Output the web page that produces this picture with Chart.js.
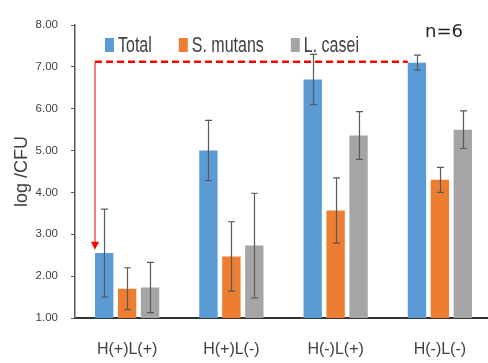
<!DOCTYPE html>
<html>
<head>
<meta charset="utf-8">
<script src="https://cdn.jsdelivr.net/npm/chart.js@4.4.0/dist/chart.umd.min.js"></script>
<style>
	html, body { margin: 0; padding: 0; background: #fff; overflow: hidden; }
	#wrap { width: 492px; height: 363px; }
</style>
</head>
<body>
<div id="wrap"><canvas id="myChart" width="492" height="363"></canvas></div>
<script>
// groups on the x axis
var groups = ["H(+)L(+)", "H(+)L(-)", "H(-)L(+)", "H(-)L(-)"];
var seriesNames = ["Total", "S. mutans", "L. casei"];

// means (log CFU)
var totalValues = [2.55, 5.0, 6.7, 7.1];
var mutansValues = [1.7, 2.47, 3.57, 4.3];
var caseiValues = [1.73, 2.73, 5.36, 5.5];

// standard deviations
var totalErrors = [1.05, 0.72, 0.6, 0.18];
var mutansErrors = [0.5, 0.83, 0.78, 0.3];
var caseiErrors = [0.6, 1.25, 0.57, 0.45];

var yTicks = [1, 2, 3, 4, 5, 6, 7, 8];
var refLevel = 7.12;   // red dashed reference line
var arrowTip = 2.63;   // where the red arrow ends
var sampleNote = "n=6";

var colors = ['#5B9BD5', '#ED7D31', '#A5A5A5'];
var errorSets = [totalErrors, mutansErrors, caseiErrors];

// error bars on each bar
var errorBarPlugin = {
	id: 'errorBars',
	afterDatasetsDraw: function(chart) {
		var ctx = chart.ctx;
		var yScale = chart.scales.y;
		ctx.save();
		ctx.strokeStyle = '#595959';
		ctx.lineWidth = 1.2;
		chart.data.datasets.forEach(function(ds, i) {
			var meta = chart.getDatasetMeta(i);
			meta.data.forEach(function(bar, j) {
				var v = ds.data[j];
				var e = errorSets[i][j];
				var top = yScale.getPixelForValue(v + e);
				var bot = yScale.getPixelForValue(v - e);
				var x = Math.round(bar.x) + 0.5;
				ctx.beginPath();
				ctx.moveTo(x, top);
				ctx.lineTo(x, bot);
				ctx.moveTo(x - 3.5, top);
				ctx.lineTo(x + 3.5, top);
				ctx.moveTo(x - 3.5, bot);
				ctx.lineTo(x + 3.5, bot);
				ctx.stroke();
			});
		});
		ctx.restore();
	}
};

// red dashed line + arrow, legend and n=6 note
var overlayPlugin = {
	id: 'overlay',
	afterDraw: function(chart) {
		var ctx = chart.ctx;
		var yScale = chart.scales.y;
		var totalMeta = chart.getDatasetMeta(0);
		var firstBar = totalMeta.data[0];
		var lastBar = totalMeta.data[totalMeta.data.length - 1];
		var x1 = firstBar.x - firstBar.width / 2;
		var x2 = lastBar.x - lastBar.width / 2;
		var yRef = yScale.getPixelForValue(refLevel);
		var yTip = yScale.getPixelForValue(arrowTip);

		ctx.save();
		ctx.strokeStyle = '#FF0000';
		ctx.lineWidth = 2.5;
		ctx.setLineDash([7, 4]);
		ctx.beginPath();
		ctx.moveTo(x1, yRef);
		ctx.lineTo(x2, yRef);
		ctx.stroke();

		ctx.setLineDash([]);
		ctx.lineWidth = 1;
		ctx.beginPath();
		ctx.moveTo(x1, yRef);
		ctx.lineTo(x1, yTip - 7);
		ctx.stroke();
		ctx.fillStyle = '#FF0000';
		ctx.beginPath();
		ctx.moveTo(x1 - 4, yTip - 8);
		ctx.lineTo(x1 + 4, yTip - 8);
		ctx.lineTo(x1, yTip);
		ctx.closePath();
		ctx.fill();
		ctx.restore();

		// legend (text is tall and narrow in the original, so stretch it a bit)
		ctx.save();
		ctx.translate(0, 45);
		ctx.scale(1, 1.35);
		ctx.font = '16px "Liberation Sans", Arial, sans-serif';
		ctx.textBaseline = 'middle';
		var lx = 105;
		seriesNames.forEach(function(name, i) {
			ctx.fillStyle = colors[i];
			ctx.fillRect(lx, -5.2, 9, 10.4);
			ctx.fillStyle = '#404040';
			ctx.fillText(name, lx + 13, 0.5);
			lx += 13 + ctx.measureText(name).width + 27;
		});
		ctx.restore();

		ctx.save();
		ctx.font = '18px "DejaVu Sans", sans-serif';
		ctx.fillStyle = '#222';
		ctx.textBaseline = 'middle';
		ctx.fillText(sampleNote, 425, 32);
		ctx.restore();
	}
};

var ctx = document.getElementById('myChart').getContext('2d');
var chart = new Chart(ctx, {
	type: 'bar',
	data: {
		labels: groups,
		datasets: [{
			label: seriesNames[0],
			data: totalValues,
			backgroundColor: colors[0]
		}, {
			label: seriesNames[1],
			data: mutansValues,
			backgroundColor: colors[1]
		}, {
			label: seriesNames[2],
			data: caseiValues,
			backgroundColor: colors[2]
		}]
	},
	options: {
		responsive: false,
		animation: false,
		devicePixelRatio: 1,
		datasets: {
			bar: { categoryPercentage: 0.66, barPercentage: 0.8 }
		},
		layout: { padding: { left: 0, top: 25, right: 0, bottom: 4 } },
		plugins: {
			legend: { display: false },
			tooltip: { enabled: false }
		},
		scales: {
			x: {
				afterFit: function(scale) { scale.height = 41; },
				grid: { display: false, drawTicks: false },
				border: { display: true, color: '#333', width: 2 },
				ticks: {
					padding: 22,
					color: '#404040',
					font: { family: '"Liberation Sans", Arial, sans-serif', size: 16 }
				}
			},
			y: {
				min: 1,
				max: 8,
				afterFit: function(scale) { scale.width = 75; },
				afterBuildTicks: function(scale) {
					scale.ticks = yTicks.map(function(v) { return { value: v }; });
				},
				grid: { drawOnChartArea: false, drawTicks: true, tickLength: 4, color: '#595959' },
				border: { display: true, color: '#595959', width: 1.5 },
				ticks: {
					padding: 13,
					color: '#404040',
					font: { family: '"Liberation Sans", Arial, sans-serif', size: 11.5 },
					callback: function(v) { return Number(v).toFixed(2); }
				},
				title: {
					display: true,
					text: 'log /CFU',
					color: '#404040',
					padding: { top: 11, bottom: 0 },
					font: { family: '"Liberation Sans", Arial, sans-serif', size: 18 }
				}
			}
		}
	},
	plugins: [errorBarPlugin, overlayPlugin]
});
</script>
</body>
</html>
